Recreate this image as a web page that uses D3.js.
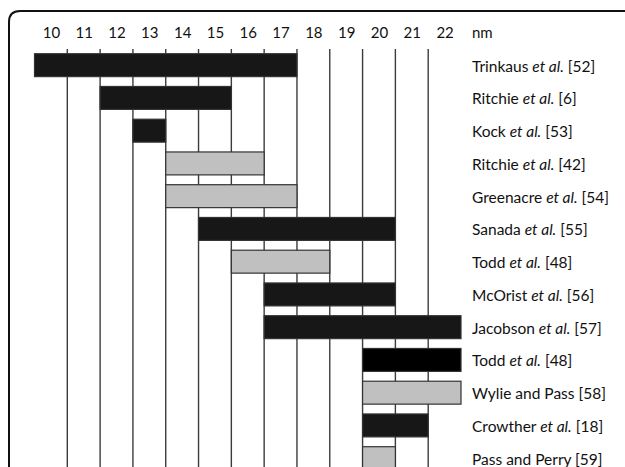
<!DOCTYPE html>
<html>
<head>
<meta charset="utf-8">
<script src="https://cdn.jsdelivr.net/npm/d3@7"></script>
<style>
  html, body { margin: 0; padding: 0; background: #fff; }
  svg { display: block; }
  text { font-family: Lato, "Open Sans", sans-serif; fill: #111; }
</style>
</head>
<body>
<svg id="chart" width="625" height="467"></svg>
<script>
// ---- data ----
const authors = ["Trinkaus", "Ritchie", "Kock", "Ritchie", "Greenacre", "Sanada", "Todd", "McOrist", "Jacobson", "Todd", "Wylie and Pass", "Crowther", "Pass and Perry"];
const etAl = [true, true, true, true, true, true, true, true, true, true, false, true, false];
const refs = ["[52]", "[6]", "[53]", "[42]", "[54]", "[55]", "[48]", "[56]", "[57]", "[48]", "[58]", "[18]", "[59]"];
const startNm = [10, 12, 13, 14, 14, 15, 16, 17, 17, 20, 20, 20, 20];
const endNm = [17, 15, 13, 16, 17, 20, 18, 20, 22, 22, 22, 21, 20];
const shade = ["dark", "dark", "dark", "gray", "gray", "dark", "gray", "dark", "dark", "black", "gray", "dark", "gray"];
const tickValues = [10, 11, 12, 13, 14, 15, 16, 17, 18, 19, 20, 21, 22];
const unitLabel = "nm";

const fills = { dark: "#171717", gray: "#c0c0c0", black: "#000000" };

const svg = d3.select("#chart");

const x = d3.scaleLinear().domain([9.5, 22.5]).range([34.5, 461]);
const rows = d3.range(authors.length);
const y = d3.scaleBand().domain(rows).range([48.8, 48.8 + 13 * 32.75]).paddingInner(0.3).paddingOuter(0.15);

// frame (rounded top-left corner)
svg.append("path")
  .attr("d", "M9,467 L9,22 Q9,11 20,11 L625,11")
  .attr("fill", "none").attr("stroke", "#111").attr("stroke-width", 2);

// grid lines at cell boundaries
const gridVals = d3.range(10.5, 22, 1);
svg.append("g").selectAll("line").data(gridVals).join("line")
  .attr("x1", d => x(d)).attr("x2", d => x(d))
  .attr("y1", 49).attr("y2", 467)
  .attr("stroke", "#3c3c3c").attr("stroke-width", 1.4);

// top axis labels
const axis = d3.axisTop(x).tickValues(tickValues).tickSize(0).tickPadding(0);
const ag = svg.append("g").attr("transform", "translate(0,38)").call(axis);
ag.select(".domain").remove();
ag.selectAll("text").attr("font-size", 15).attr("font-family", "Lato, sans-serif").attr("fill", "#111").attr("dy", 0);

svg.append("text").attr("x", 472).attr("y", 38).attr("font-size", 15).text(unitLabel);

// bars
svg.append("g").selectAll("rect").data(rows).join("rect")
  .attr("x", i => x(startNm[i] - 0.5))
  .attr("width", i => x(endNm[i] + 0.5) - x(startNm[i] - 0.5))
  .attr("y", i => y(i))
  .attr("height", y.bandwidth())
  .attr("fill", i => fills[shade[i]])
  .attr("stroke", "#333").attr("stroke-width", 1.2);

// labels
const lab = svg.append("g").selectAll("text").data(rows).join("text")
  .attr("x", 472)
  .attr("y", i => y(i) + y.bandwidth() / 2 + 6.5)
  .attr("font-size", 15.5);
lab.each(function(i) {
  const t = d3.select(this);
  if (etAl[i]) {
    t.append("tspan").text(authors[i] + " ");
    t.append("tspan").attr("font-style", "italic").text("et al.");
    t.append("tspan").text(" " + refs[i]);
  } else {
    t.append("tspan").text(authors[i] + " " + refs[i]);
  }
});
</script>
</body>
</html>
